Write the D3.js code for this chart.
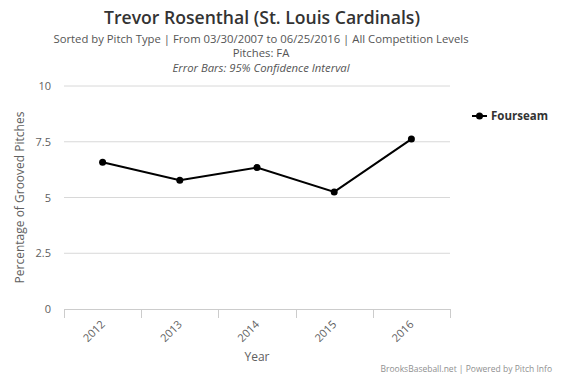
<!DOCTYPE html>
<html>
<head>
<meta charset="utf-8">
<script src="https://cdn.jsdelivr.net/npm/d3@7"></script>
<style>
  html, body { margin: 0; padding: 0; background: #fff; }
  svg { display: block; font-family: "Open Sans", "DejaVu Sans", sans-serif; }
</style>
</head>
<body>
<div id="chart"></div>
<script>
'use strict';

const years = ['2012', '2013', '2014', '2015', '2016'];
const fourseam = [6.58, 5.77, 6.34, 5.25, 7.62];
const yTicks = [0, 2.5, 5, 7.5, 10];

const W = 566, H = 377;
const margin = { left: 64, right: 116, top: 86, bottom: 68 };

const svg = d3.select('#chart').append('svg')
  .attr('width', W)
  .attr('height', H);

const x = d3.scaleBand()
  .domain(years)
  .range([margin.left, W - margin.right]);

const y = d3.scaleLinear()
  .domain([0, 10])
  .range([H - margin.bottom, margin.top]);

// titles
svg.append('text')
  .attr('x', 262).attr('y', 24)
  .attr('text-anchor', 'middle')
  .attr('font-size', '17.6px')
  .attr('font-weight', 600)
  .attr('fill', '#333')
  .text('Trevor Rosenthal (St. Louis Cardinals)');

const subLines = [
  { t: 'Sorted by Pitch Type | From 03/30/2007 to 06/25/2016 | All Competition Levels', y: 43, italic: false },
  { t: 'Pitches: FA', y: 57, italic: false },
  { t: 'Error Bars: 95% Confidence Interval', y: 72, italic: true },
];
svg.selectAll('text.sub')
  .data(subLines)
  .join('text')
  .attr('class', 'sub')
  .attr('x', 261)
  .attr('y', d => d.y)
  .attr('text-anchor', 'middle')
  .attr('font-size', '11.3px')
  .attr('font-style', d => d.italic ? 'italic' : 'normal')
  .attr('fill', '#555')
  .text(d => d.t);

// grid lines
svg.append('g')
  .selectAll('line')
  .data(yTicks.filter(d => d > 0))
  .join('line')
  .attr('x1', margin.left).attr('x2', W - margin.right)
  .attr('y1', d => y(d)).attr('y2', d => y(d))
  .attr('stroke', '#d8d8d8')
  .attr('stroke-width', 1);

// y tick labels
svg.append('g')
  .selectAll('text')
  .data(yTicks)
  .join('text')
  .attr('x', 51)
  .attr('y', d => y(d) + 4)
  .attr('text-anchor', 'end')
  .attr('font-size', '11px')
  .attr('fill', '#606060')
  .text(d => d);

// y title
svg.append('text')
  .attr('transform', `translate(24,${(y(0) + y(10)) / 2}) rotate(-90)`)
  .attr('text-anchor', 'middle')
  .attr('font-size', '12px')
  .attr('fill', '#606060')
  .text('Percentage of Grooved Pitches');

// x axis
const xAxis = svg.append('g');
xAxis.append('line')
  .attr('x1', margin.left).attr('x2', W - margin.right)
  .attr('y1', y(0) + 0.5).attr('y2', y(0) + 0.5)
  .attr('stroke', '#cccccc');
const edges = years.map(d => x(d)).concat([x(years[years.length - 1]) + x.bandwidth()]);
xAxis.selectAll('line.tick')
  .data(edges)
  .join('line')
  .attr('class', 'tick')
  .attr('x1', d => Math.round(d) + 0.5).attr('x2', d => Math.round(d) + 0.5)
  .attr('y1', y(0)).attr('y2', y(0) + 9)
  .attr('stroke', '#cccccc');
xAxis.selectAll('text')
  .data(years)
  .join('text')
  .attr('transform', d => `translate(${x(d) + x.bandwidth() / 2 + 3},${y(0) + 16}) rotate(-45)`)
  .attr('text-anchor', 'end')
  .attr('font-size', '11px')
  .attr('fill', '#606060')
  .text(d => d);

svg.append('text')
  .attr('x', (margin.left + W - margin.right) / 2)
  .attr('y', 361)
  .attr('text-anchor', 'middle')
  .attr('font-size', '12px')
  .attr('fill', '#606060')
  .text('Year');

// line series
const pts = years.map((d, i) => [x(d) + x.bandwidth() / 2, y(fourseam[i])]);
svg.append('path')
  .attr('d', d3.line()(pts))
  .attr('fill', 'none')
  .attr('stroke', '#000')
  .attr('stroke-width', 2);
svg.append('g')
  .selectAll('circle')
  .data(pts)
  .join('circle')
  .attr('cx', d => d[0]).attr('cy', d => d[1])
  .attr('r', 3.5)
  .attr('fill', '#000');

// legend
const lg = svg.append('g').attr('transform', 'translate(472,116)');
lg.append('line').attr('x1', 0).attr('x2', 15).attr('y1', 0).attr('y2', 0)
  .attr('stroke', '#000').attr('stroke-width', 2);
lg.append('circle').attr('cx', 7.5).attr('cy', 0).attr('r', 3.5).attr('fill', '#000');
lg.append('text')
  .attr('x', 19).attr('y', 4)
  .attr('font-size', '11.5px')
  .attr('font-weight', 'bold')
  .attr('fill', '#333')
  .text('Fourseam');

// credits
svg.append('text')
  .attr('x', 552).attr('y', 372)
  .attr('text-anchor', 'end')
  .attr('font-size', '8.5px')
  .attr('fill', '#909090')
  .text('BrooksBaseball.net | Powered by Pitch Info');
</script>
</body>
</html>
